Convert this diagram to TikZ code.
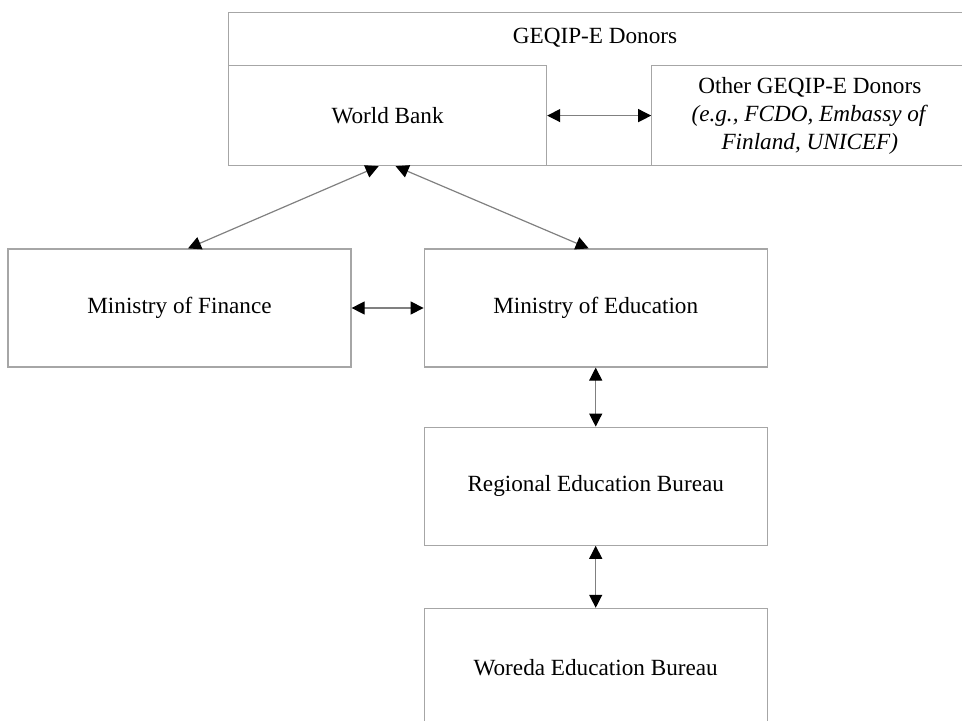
\documentclass[tikz,border=0pt]{standalone}
\usepackage{fontspec}
\setmainfont{Liberation Serif}
\usetikzlibrary{arrows.meta, positioning}

\begin{document}
\begin{tikzpicture}[x=0.5pt, y=-0.5pt, >={Triangle[length=6.5pt, width=6.5pt, color=black]}]
    \tikzstyle{box}=[rectangle, draw=gray!70, line width=0.6pt, inner sep=0pt, minimum width=171.5pt, minimum height=59pt, font=\fontsize{11.6}{14}\selectfont, align=center]
    \tikzstyle{lbl}=[font=\fontsize{11.6}{14}\selectfont]
    \tikzstyle{link}=[<->, draw=gray, line width=0.6pt]

    \useasboundingbox (0,0) rectangle (962,721);

    \node[box, minimum width=372pt, minimum height=76.5pt, anchor=north west] (donors) at (228,12) {};
    \node[lbl] (donorslbl) at (595,38) {GEQIP-E Donors};
    \node[box, minimum width=159pt, minimum height=50pt, anchor=south west] (wb) at (donors.south west) {World Bank};
    \node[box, minimum width=158pt, minimum height=50pt, right=52pt of wb] (other) {Other GEQIP-E Donors\\ \textit{(e.g., FCDO, Embassy of}\\ \textit{Finland, UNICEF)}};
    \node[box] (fin) at (179.5,308) {Ministry of Finance};
    \node[box, right=36pt of fin] (moe) {Ministry of Education};
    \node[box, below=29.5pt of moe] (reb) {Regional Education Bureau};
    \node[box, below=31pt of reb] (web) {Woreda Education Bureau};

    \draw[link] (wb) -- (other);
    \draw[link] ([xshift=-4.5pt]wb.south) -- ([xshift=4.25pt]fin.north);
    \draw[link] ([xshift=4pt]wb.south) -- ([xshift=-3.5pt]moe.north);
    \draw[link] (fin) -- (moe);
    \draw[link] (moe) -- (reb);
    \draw[link] (reb) -- (web);
\end{tikzpicture}
\end{document}
